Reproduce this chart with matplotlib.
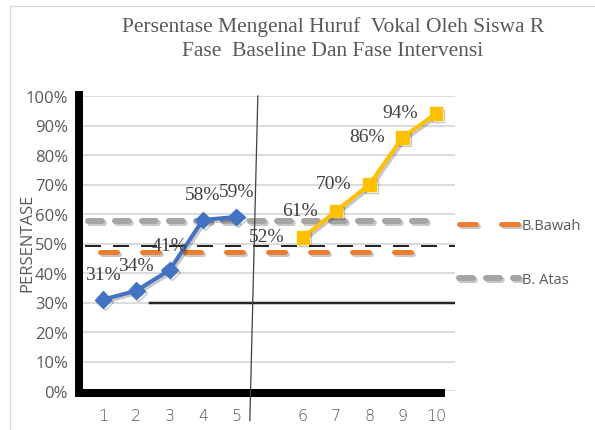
import matplotlib
matplotlib.use('Agg')
import matplotlib.pyplot as plt
import matplotlib.patheffects as pe
from matplotlib.patches import Rectangle
from matplotlib.ticker import FuncFormatter

# sesi: 5 baseline, one empty slot, 5 intervensi
sesi = ['1', '2', '3', '4', '5', '', '6', '7', '8', '9', '10']
baseline = [31, 34, 41, 58, 59]
intervensi = [52, 61, 70, 86, 94]
b_atas = 57.5      # B. Atas
b_bawah = 47       # B.Bawah
garis_putus = 49   # black dashed line
garis_bawah = 30   # black solid line
y_ticks = list(range(0, 101, 10))

pos = list(range(1, len(sesi) + 1))
pos_base = pos[:5]
pos_int = pos[6:]

W, H = 595, 431
PX = 0.72  # px -> pt at dpi 100

fig = plt.figure(figsize=(W / 100, H / 100), dpi=100)
ax = fig.add_axes([75 / W, 39 / H, 380 / W, 295 / H])
ax.set_xlim(0.16, 11.57)
ax.set_ylim(0, 100)

# outer chart border
fig.patches.append(Rectangle((10 / W, -0.1), 1.2, 1 - 7 / H + 0.1, transform=fig.transFigure,
                             fill=False, edgecolor='#D9D9D9', lw=1))

for s in ax.spines.values():
    s.set_visible(False)
ax.set_yticks(y_ticks)
ax.yaxis.grid(True, color='#D9D9D9', lw=1.3)
ax.set_axisbelow(True)
ax.yaxis.set_major_formatter(FuncFormatter(lambda v, p: f'{int(v)}%'))
ax.set_xticks(pos, sesi)
ax.tick_params(axis='y', length=0, pad=5, labelsize=12, labelcolor='#595959')
ax.tick_params(axis='x', length=0, pad=12, labelsize=11.5, labelcolor='#595959')
for t in ax.get_yticklabels():
    t.set_family('Open Sans')
for t in ax.get_xticklabels():
    t.set_family('DejaVu Sans')
    t.set_fontweight('light')

shadow = [pe.SimpleLineShadow(offset=(1.5, -1.5), shadow_color='black', alpha=0.22), pe.Normal()]

# batas lines
ax.plot([0.55, 10.88], [b_atas, b_atas], color='#A5A5A5', lw=6 * PX,
        dashes=(2.3, 2.2), dash_capstyle='round', path_effects=shadow, zorder=3, label='B. Atas')
ax.plot([0.91, 10.52], [b_bawah, b_bawah], color='#ED7D31', lw=5 * PX,
        dashes=(3.4, 5), dash_capstyle='round', path_effects=shadow, zorder=3, label='B.Bawah')
ax.plot([0.45, 11.57], [garis_putus, garis_putus], color='#262626', lw=2 * PX,
        dashes=(8, 6), zorder=2)
ax.plot([2.41, 11.57], [garis_bawah, garis_bawah], color='#262626', lw=2.5 * PX, zorder=2)

# phase change line
ax.plot([5.65, 5.41], [100, -10], color='#404040', lw=0.9, clip_on=False, zorder=6)

# data series
ax.plot(pos_base, baseline, color='#4472C4', lw=4 * PX, marker='D', ms=8.5,
        path_effects=shadow, zorder=4)
ax.plot(pos_int, intervensi, color='#FFC000', lw=4 * PX, marker='s', ms=9,
        path_effects=shadow, zorder=4)

lab = dict(family='Liberation Serif', size=14, color='#404040', ha='center', va='center',
           textcoords='offset pixels', zorder=7)
for x, v in zip(pos_base, baseline):
    ax.annotate(f'{v}%', (x, v), xytext=(0, 25), **lab)
for x, v in zip(pos_int, intervensi):
    ax.annotate(f'{v}%', (x, v), xytext=(-36, 1), **lab)

# thick black axes
ax.plot([0.22, 11.27], [-0.7, -0.7], color='black', lw=8 * PX, solid_capstyle='butt',
        clip_on=False, zorder=5)
ax.plot([0.28, 0.28], [-2, 101.7], color='black', lw=8 * PX, solid_capstyle='butt',
        clip_on=False, zorder=5)

fig.text(333 / W, 1 - 39 / H, 'Persentase Mengenal Huruf  Vokal Oleh Siswa R\nFase  Baseline Dan Fase Intervensi',
         ha='center', va='center', family='Liberation Serif', size=15.5, color='#595959',
         linespacing=1.3)
fig.text(27 / W, 1 - 243 / H, 'PERSENTASE', rotation=90, ha='center', va='center',
         family='Open Sans', size=12, color='#595959')

h, l = ax.get_legend_handles_labels()
leg = ax.legend(h[::-1], l[::-1], loc='upper left', bbox_to_anchor=(459 / W, 1 - 219 / H),
                bbox_transform=fig.transFigure, frameon=False, borderpad=0, borderaxespad=0,
                handlelength=4.1, handletextpad=0.2, labelspacing=2.7,
                prop={'family': 'Open Sans', 'size': 10.5})
for t in leg.get_texts():
    t.set_color('#595959')

fig.savefig('out.png', dpi=100)
